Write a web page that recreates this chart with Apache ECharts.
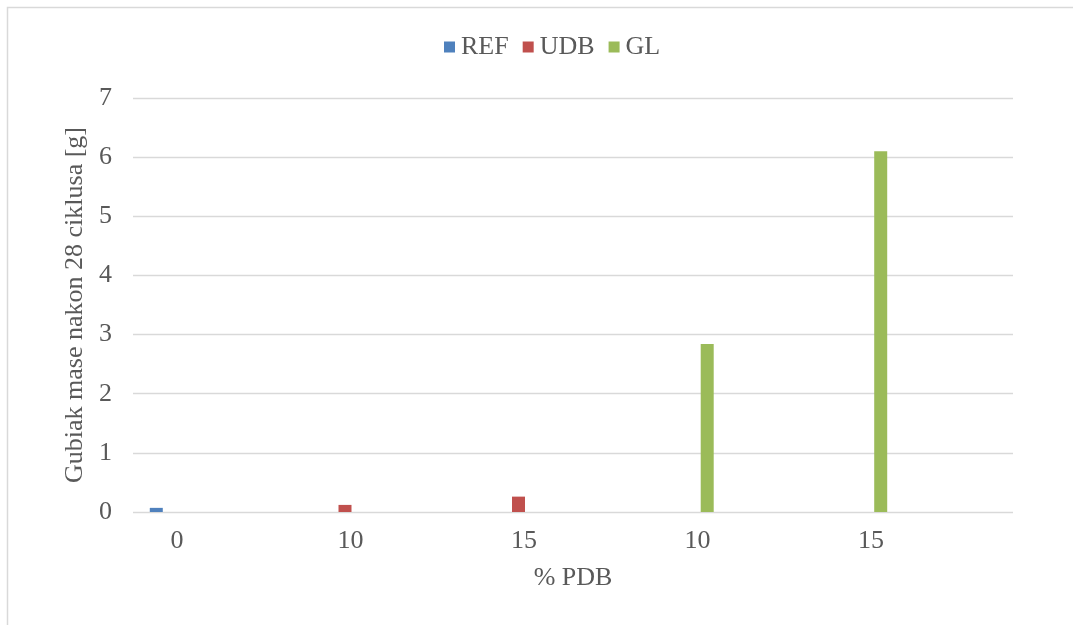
<!DOCTYPE html>
<html>
<head>
<meta charset="utf-8">
<script src="https://cdn.jsdelivr.net/npm/echarts@6/dist/echarts.min.js"></script>
<style>html,body{margin:0;padding:0;background:#fff}#c{width:1073px;height:625px}</style>
</head>
<body>
<div id="c"></div>
<script>
const categories = ['0', '10', '15', '10', '15'];
const refValues = [0.07, null, null, null, null];
const udbValues = [null, 0.12, 0.26, null, null];
const glValues = [null, null, null, 2.84, 6.1];
const yTicks = [0, 1, 2, 3, 4, 5, 6, 7];

const FONT = '"Liberation Serif", "Times New Roman", serif';
const FS = 26;
const TXT = '#595959';
const chart = echarts.init(document.getElementById('c'), null, {renderer: 'canvas'});
chart.setOption({
  backgroundColor: '#fff',
  animation: false,
  graphic: [{
    type: 'rect', silent: true,
    shape: {x: 7.5, y: 7.5, width: 1200, height: 700},
    style: {fill: 'none', stroke: '#d9d9d9', lineWidth: 1.5}
  }],
  legend: {
    left: 439, top: 29,
    itemWidth: 11, itemHeight: 11, itemGap: 14,
    icon: 'rect',
    textStyle: {fontFamily: FONT, fontSize: FS, color: TXT, padding: [0, 0, 0, 1]},
    data: ['REF', 'UDB', 'GL']
  },
  grid: [
    {left: 133, right: 60, top: 98, bottom: 113},
    {left: 84.75, width: 867.5, top: 98, bottom: 113}
  ],
  xAxis: [
    {gridIndex: 0, type: 'category', data: categories,
     axisLine: {show: false}, axisTick: {show: false}, axisLabel: {show: false},
     name: '% PDB', nameLocation: 'middle', nameGap: 53,
     nameTextStyle: {fontFamily: FONT, fontSize: FS, color: TXT, padding: [0, 0, 0, 0]}},
    {gridIndex: 1, type: 'category', data: categories,
     axisLine: {show: false}, axisTick: {show: false},
     axisLabel: {fontFamily: FONT, fontSize: FS, color: TXT, margin: 16, padding: [0, 0, 0, 11]}}
  ],
  yAxis: [
    {gridIndex: 0, type: 'value', min: 0, max: 7, interval: 1,
     axisLine: {show: false}, axisTick: {show: false},
     splitLine: {lineStyle: {color: '#d9d9d9', width: 1.3}},
     axisLabel: {fontFamily: FONT, fontSize: FS, color: TXT, margin: 21},
     name: 'Gubiak mase nakon 28 ciklusa [g]', nameLocation: 'middle', nameGap: 45,
     nameTextStyle: {fontFamily: FONT, fontSize: FS, color: TXT}},
    {gridIndex: 1, type: 'value', min: 0, max: 7, interval: 1, show: false}
  ],
  series: [
    {name: 'REF', type: 'bar', xAxisIndex: 1, yAxisIndex: 1, data: refValues,
     barWidth: 13, barGap: '17%', itemStyle: {color: '#4f81bd'}},
    {name: 'UDB', type: 'bar', xAxisIndex: 1, yAxisIndex: 1, data: udbValues,
     barWidth: 13, barGap: '17%', itemStyle: {color: '#c0504d'}},
    {name: 'GL', type: 'bar', xAxisIndex: 1, yAxisIndex: 1, data: glValues,
     barWidth: 13, barGap: '17%', itemStyle: {color: '#9bbb59'}}
  ]
});
</script>
</body>
</html>
